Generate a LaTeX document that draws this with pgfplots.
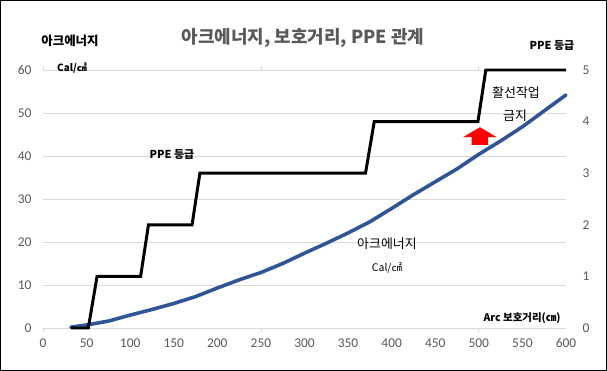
\documentclass[border=0pt]{standalone}
\usepackage{fontspec}
\usepackage{pgfplots}
\pgfplotsset{compat=1.18}
\setmainfont{Carlito}
\newfontfamily\kr{Noto Sans CJK KR}
\definecolor{tickgray}{RGB}{89,89,89}
\definecolor{gridgray}{RGB}{217,217,217}
\definecolor{arcblue}{RGB}{47,85,151}
\begin{document}
\begin{tikzpicture}
\useasboundingbox (0,0) rectangle (607bp,371bp);
\draw[black, line width=0.8pt] (0.5bp,0.5bp) rectangle (606.5bp,370.5bp);
\begin{axis}[
  at={(43bp,43bp)}, anchor=south west,
  scale only axis, width=523bp, height=258bp,
  xmin=0, xmax=600, ymin=0, ymax=60,
  xtick={0,50,...,600}, ytick={0,10,...,60},
  axis line style={draw=none},
  major tick length=0pt,
  ymajorgrids, grid style={gridgray, line width=0.8pt},
  tick label style={font=\fontsize{13.5}{15}\selectfont, text=tickgray},
  /pgf/number format/assume math mode=true,
  xticklabel style={yshift=-7bp},
  yticklabel style={xshift=-8bp},
  extra x ticks={0,250,500}, extra x tick labels={},
  extra x tick style={major tick length=4bp, tick align=outside, tick style={gridgray, line width=0.8pt}, grid=none},
  clip=false,
]
\addplot[arcblue, line width=3.6pt, line join=round, line cap=round] coordinates {
(32,0.2) (50,0.7) (75,1.6) (100,3.0) (125,4.3) (150,5.7) (175,7.3) (200,9.3)
(225,11.2) (250,12.9) (275,15.0) (300,17.4) (325,19.7) (350,22.1) (375,24.7)
(400,27.8) (425,31.0) (450,34.0) (475,37.0) (500,40.4) (525,43.5) (550,46.8)
(575,50.5) (600,54.2)};
\fill[red] (axis cs:501.3,46.7) -- (axis cs:520.5,44.4) -- (axis cs:510.7,44.4) -- (axis cs:510.7,42.6) -- (axis cs:491.6,42.6) -- (axis cs:491.6,44.4) -- (axis cs:482,44.4) -- cycle;
\end{axis}
\begin{axis}[
  at={(43bp,43bp)}, anchor=south west,
  scale only axis, width=523bp, height=258bp,
  xmin=0, xmax=600, ymin=0, ymax=5,
  axis x line=none,
  axis y line*=right,
  y axis line style={draw=none},
  ytick={0,1,...,5},
  major tick length=0pt,
  tick label style={font=\fontsize{13.5}{15}\selectfont, text=tickgray},
  /pgf/number format/assume math mode=true,
  yticklabel style={xshift=13bp},
  clip=false,
]
\addplot[black, line width=3pt, line join=miter] coordinates {
(32,0) (52,0) (62,1) (112,1) (121,2) (171,2) (180,3) (370,3) (380,4) (499,4) (508,5) (600,5)};
\end{axis}
\node[text=tickgray, font=\kr\bfseries\fontsize{18}{21}\selectfont] at (303bp,333bp) {아크에너지, 보호거리, PPE 관계};
\node[font=\kr\bfseries\fontsize{12.5}{14}\selectfont] at (70bp,330bp) {아크에너지};
\node[font=\kr\bfseries\fontsize{10}{12}\selectfont] at (72bp,303bp) {Cal/㎠};
\node[font=\kr\bfseries\fontsize{11}{13}\selectfont] at (552bp,325bp) {PPE 등급};
\node[font=\kr\bfseries\fontsize{11}{13}\selectfont] at (172bp,216bp) {PPE 등급};
\node[font=\kr\fontsize{13}{15}\selectfont] at (516bp,278bp) {활선작업};
\node[font=\kr\fontsize{13}{15}\selectfont] at (515bp,255bp) {금지};
\node[font=\kr\fontsize{13}{15}\selectfont] at (387bp,127bp) {아크에너지};
\node[font=\kr\fontsize{10.5}{12}\selectfont] at (387bp,103bp) {Cal/㎠};
\node[font=\kr\bfseries\fontsize{10.5}{12}\selectfont] at (522bp,53bp) {Arc 보호거리(㎝)};
\end{tikzpicture}
\end{document}
